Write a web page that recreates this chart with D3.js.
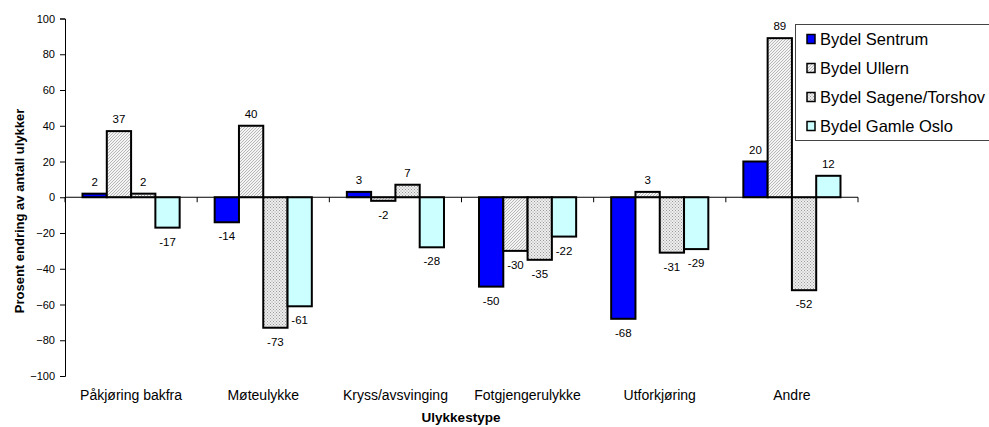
<!DOCTYPE html>
<html><head><meta charset="utf-8">
<script src="https://cdn.jsdelivr.net/npm/d3@7"></script>
<style>body{margin:0;background:#fff}svg{display:block;font-family:Arial,"Liberation Sans",sans-serif}</style>
</head><body>
<svg id="c" width="989" height="427"></svg>
<script>
const categories = ["Påkjøring bakfra","Møteulykke","Kryss/avsvinging","Fotgjengerulykke","Utforkjøring","Andre"];
const seriesNames = ["Bydel Sentrum","Bydel Ullern","Bydel Sagene/Torshov","Bydel Gamle Oslo"];
const sentrum = [2,-14,3,-50,-68,20];
const ullern = [37,40,-2,-30,3,89];
const sagene = [2,-73,7,-35,-31,-52];
const gamleOslo = [-17,-61,-28,-22,-29,12];
const yTicks = [100,80,60,40,20,0,-20,-40,-60,-80,-100];
const yTitle = "Prosent endring av antall ulykker";
const xTitle = "Ulykkestype";

const series = [sentrum, ullern, sagene, gamleOslo];
const fills = ["#0000FF","url(#hatch)","url(#dots)","#CCFFFF"];

const svg = d3.select("#c");
const defs = svg.append("defs");
const h = defs.append("pattern").attr("id","hatch").attr("patternUnits","userSpaceOnUse").attr("width",3).attr("height",3);
h.append("rect").attr("width",3).attr("height",3).attr("fill","#f4f4f4");
h.append("path").attr("d","M-1,1 L1,-1 M0,3 L3,0 M2,4 L4,2").attr("stroke","#b0b0b0").attr("stroke-width",0.9);
const d = defs.append("pattern").attr("id","dots").attr("patternUnits","userSpaceOnUse").attr("width",3).attr("height",3);
d.append("rect").attr("width",3).attr("height",3).attr("fill","#eeeeee");
d.append("rect").attr("x",0).attr("y",0).attr("width",1).attr("height",1).attr("fill","#9a9a9a");
d.append("rect").attr("x",1.5).attr("y",1.5).attr("width",1).attr("height",1).attr("fill","#9a9a9a");

const pLeft = 65, pRight = 858, pTop = 18.5, pBottom = 376;
const y = d3.scaleLinear().domain([-100,100]).range([pBottom, pTop]);
const x0 = d3.scaleBand().domain(categories).range([pLeft, pRight]).paddingInner(0.265).paddingOuter(0.1325);
const x1 = d3.scaleBand().domain(d3.range(4)).range([0, x0.bandwidth()]);

// y axis
const yAxis = d3.axisLeft(y).tickValues(yTicks).tickSize(5).tickPadding(5);
const ga = svg.append("g").attr("transform",`translate(${pLeft},0)`).call(yAxis);
ga.select(".domain").attr("stroke","#000").attr("stroke-width",1);
ga.selectAll(".tick line").attr("stroke","#000");
ga.selectAll(".tick text").attr("font-size","11px").attr("fill","#000").attr("font-family","Arial, 'Liberation Sans', sans-serif");

// bars
categories.forEach((c, i) => {
  series.forEach((s, j) => {
    const v = s[i];
    const bx = x0(c) + x1(j);
    svg.append("rect")
      .attr("x", bx).attr("width", x1.bandwidth())
      .attr("y", y(Math.max(0, v))).attr("height", Math.abs(y(v) - y(0)))
      .attr("fill", fills[j]).attr("stroke", "#000").attr("stroke-width", 2);
  });
});

// zero line and category ticks
svg.append("line").attr("x1",pLeft).attr("x2",pRight).attr("y1",y(0)).attr("y2",y(0)).attr("stroke","#000").attr("stroke-width",1);
const bounds = d3.range(categories.length + 1).map(i => pLeft + i * x0.step());
svg.selectAll(".ct").data(bounds).enter().append("line")
  .attr("x1", b => b).attr("x2", b => b).attr("y1", y(0)).attr("y2", y(0) + 5)
  .attr("stroke", "#000");

// labels
categories.forEach((c, i) => {
  series.forEach((s, j) => {
    const v = s[i];
    const cx = x0(c) + x1(j) + x1.bandwidth() / 2;
    svg.append("text").attr("x", cx)
      .attr("y", v >= 0 ? y(v) - 8 : y(v) + 18)
      .attr("text-anchor","middle").attr("font-size","11.5px").text(v);
  });
});

// category labels
svg.selectAll(".cl").data(categories).enter().append("text")
  .attr("x", c => x0(c) + x0.bandwidth()/2).attr("y", 400)
  .attr("text-anchor","middle").attr("font-size","14px").text(c => c);

// axis titles
svg.append("text").attr("transform","translate(24,211) rotate(-90)")
  .attr("text-anchor","middle").attr("font-size","13px").attr("font-weight","bold").text(yTitle);
svg.append("text").attr("x",461).attr("y",422)
  .attr("text-anchor","middle").attr("font-size","13.5px").attr("font-weight","bold").text(xTitle);

// legend
const lg = svg.append("g");
lg.append("rect").attr("x",795.5).attr("y",24.5).attr("width",220).attr("height",116)
  .attr("fill","#fff").attr("stroke","#444").attr("stroke-width",1);
seriesNames.forEach((n, j) => {
  const ly = 39 + j * 29;
  lg.append("rect").attr("x",807).attr("y",ly-4.5).attr("width",8).attr("height",9)
    .attr("fill",fills[j]).attr("stroke","#000").attr("stroke-width",1.5);
  lg.append("text").attr("x",820).attr("y",ly+6).attr("font-size","16.5px").text(n);
});
</script>
</body></html>
